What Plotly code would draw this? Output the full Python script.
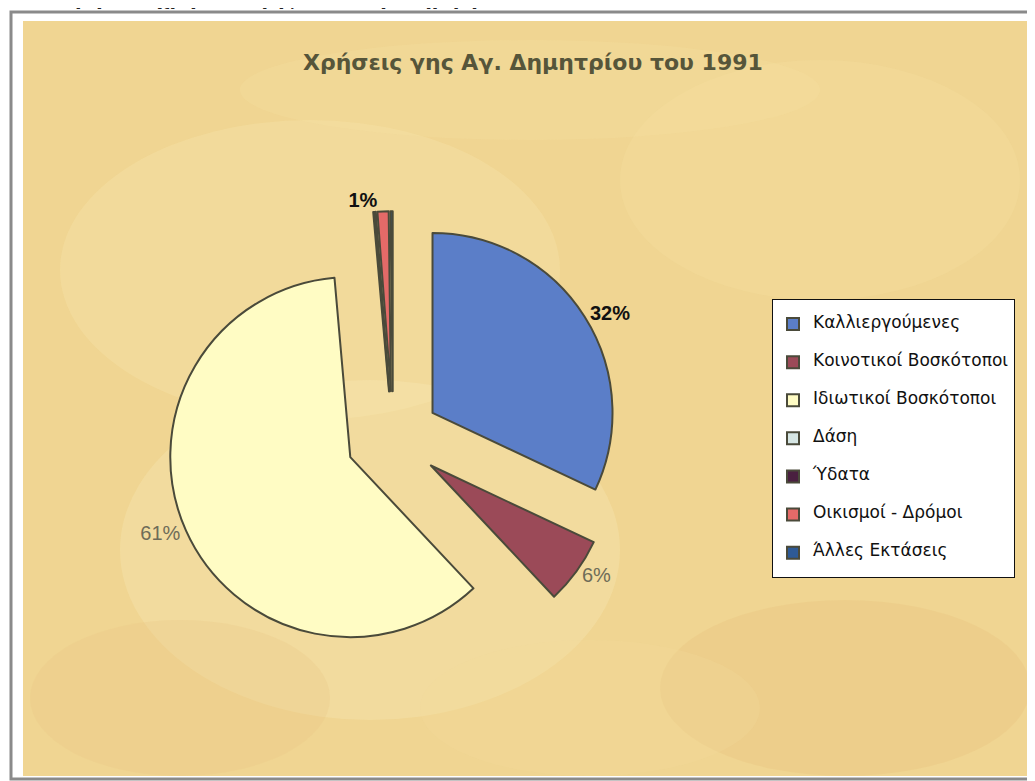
import plotly.graph_objects as go

# ---- data ----
categories = ["Καλλιεργούμενες", "Κοινοτικοί Βοσκότοποι", "Ιδιωτικοί Βοσκότοποι",
              "Δάση", "Ύδατα", "Οικισμοί - Δρόμοι", "Άλλες Εκτάσεις"]
shares = [32.0, 6.0, 60.6, 0.1, 0.1, 1.0, 0.2]
slice_colors = ["#5b7ec8", "#9b4a58", "#fffcc4", "#d6e6e4", "#4a2040", "#e46a68", "#2e5a96"]
label_bold = [True, False, False, True, True, True, True]
label_colors = ["#111111", "#6e6c58", "#6e6c58", "#111111", "#111111", "#111111", "#111111"]
label_shown = [True, True, True, False, False, True, False]

title_text = "Χρήσεις γης Αγ. Δημητρίου του 1991"
caption_text = "Κατανομή των χρήσεων γης στον Αγ. Δημήτριο"

# the page body has an 8px margin, so the figure is 8px smaller than the window
OFF = 8
W, H = 1035 - OFF, 781 - OFF


def px(X):
    return (X - OFF) / W


def py(Y):
    return 1 - (Y - OFF) / H


legend_labels = ["<br><span style='font-size:17px'>" + c + "</span><br>" for c in categories]
templates = []
for b, s in zip(label_bold, label_shown):
    if not s:
        templates.append("")
    else:
        templates.append("<b>%{percent:.0%}</b>" if b else "%{percent:.0%}")

# pie geometry (screen pixels): centre (393, 438), radius 180, pull 0.26
CX, CY, R, PULL = 393, 438, 180, 0.26
half = R * (1 + PULL)

fig = go.Figure()
fig.add_trace(go.Pie(
    labels=legend_labels,
    values=shares,
    sort=False,
    direction="clockwise",
    rotation=0,
    pull=PULL,
    marker=dict(colors=slice_colors, line=dict(color="#4a4a3a", width=2)),
    texttemplate=templates,
    textposition="outside",
    outsidetextfont=dict(family="Liberation Sans, Arial, sans-serif", size=20, color=label_colors),
    hoverinfo="label+percent",
    domain=dict(x=[px(CX - half), px(CX + half)], y=[py(CY + half), py(CY - half)]),
    showlegend=True,
))

shapes = [
    # white page with gray frame
    dict(type="rect", xref="paper", yref="paper", layer="below",
         x0=px(11), x1=px(1036), y0=py(779), y1=py(12),
         line=dict(color="#8a8a8a", width=3), fillcolor="white"),
    # parchment area
    dict(type="rect", xref="paper", yref="paper", layer="below",
         x0=px(23), x1=px(1032), y0=py(776), y1=py(21),
         line=dict(width=0), fillcolor="#f0d592"),
]
# soft mottling on the parchment
blotches = [
    (60, 120, 560, 420, "#f8e8b0", 0.30),
    (120, 380, 620, 720, "#f9ecb8", 0.30),
    (620, 60, 1020, 300, "#f6e3a4", 0.25),
    (660, 600, 1030, 776, "#e6c07a", 0.28),
    (30, 620, 330, 776, "#eac784", 0.28),
    (420, 640, 760, 776, "#f3dc9c", 0.25),
    (240, 40, 820, 140, "#f5e2a2", 0.22),
]
for x0, y0, x1, y1, c, o in blotches:
    shapes.append(dict(type="circle", xref="paper", yref="paper", layer="below",
                       x0=px(x0), x1=px(x1), y0=py(y1), y1=py(y0),
                       line=dict(width=0), fillcolor=c, opacity=o))

annotations = [
    dict(text="<b>" + title_text + "</b>", xref="paper", yref="paper",
         x=px(533), y=py(62), xanchor="center", yanchor="middle", showarrow=False,
         font=dict(family="DejaVu Sans, Verdana, sans-serif", size=22, color="#56553a")),
    dict(text="<b>" + caption_text + "</b>", xref="paper", yref="paper",
         x=px(0), y=py(0), xanchor="left", yanchor="bottom", xshift=-6, yshift=-11, showarrow=False,
         font=dict(family="DejaVu Sans, Verdana, sans-serif", size=19, color="#222222")),
]

fig.update_layout(
    width=W, height=H,
    margin=dict(l=0, r=0, t=0, b=0),
    paper_bgcolor="white",
    plot_bgcolor="white",
    shapes=shapes,
    annotations=annotations,
    legend=dict(
        x=px(772), y=py(299), xanchor="left", yanchor="top",
        bgcolor="white", bordercolor="#111111", borderwidth=1,
        font=dict(family="DejaVu Sans, Verdana, sans-serif", size=9, color="#111111"),
        traceorder="normal",
    ),
)

fig.write_html("out.html")
